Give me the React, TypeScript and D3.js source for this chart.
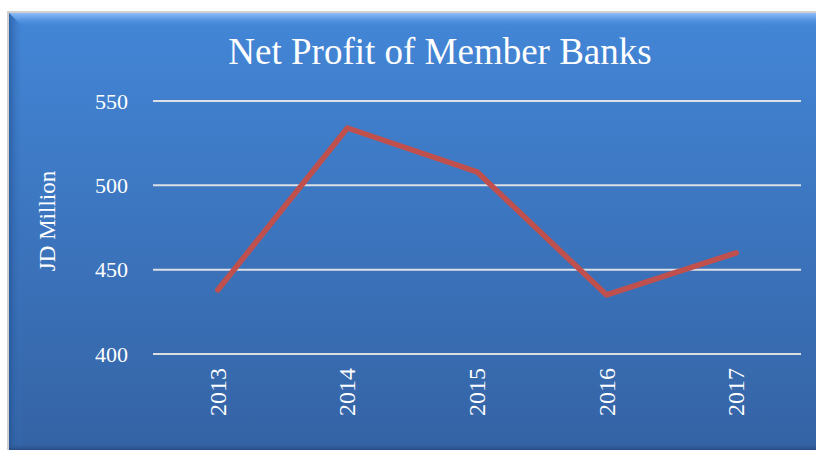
import React from "react";
import * as d3 from "d3";

const categories: string[] = ["2013", "2014", "2015", "2016", "2017"];
const netProfit: number[] = [438, 534, 508, 435, 460];
const yTicks: number[] = [400, 450, 500, 550];
const title = "Net Profit of Member Banks";
const yLabel = "JD Million";

export default function App() {
  const W = 816;
  const H = 450;
  const plot = { left: 153, right: 801, top: 101, bottom: 354 };

  const x = d3
    .scaleBand<string>()
    .domain(categories)
    .range([plot.left, plot.right]);
  const y = d3.scaleLinear().domain([400, 550]).range([plot.bottom, plot.top]);

  const line = d3
    .line<number>()
    .x((_, i) => (x(categories[i]) as number) + x.bandwidth() / 2)
    .y((d) => y(d));

  const font = "'Liberation Serif', 'Times New Roman', serif";

  return (
    <svg
      width={W}
      height={H}
      style={{ position: "absolute", left: 0, top: 0, display: "block" }}
    >
      <defs>
        <linearGradient id="bg" x1="0" y1="0" x2="0" y2="1">
          <stop offset="0%" stopColor="#4386d7" />
          <stop offset="100%" stopColor="#3462a3" />
        </linearGradient>
        <linearGradient id="bevelTop" x1="0" y1="0" x2="0" y2="1">
          <stop offset="0%" stopColor="#8cbcf2" />
          <stop offset="35%" stopColor="#66a1ea" />
          <stop offset="100%" stopColor="#4386d7" stopOpacity="0" />
        </linearGradient>
        <linearGradient id="bevelLeft" x1="0" y1="0" x2="1" y2="0">
          <stop offset="0%" stopColor="#1f4f8f" stopOpacity="0.6" />
          <stop offset="100%" stopColor="#3d7bc8" stopOpacity="0" />
        </linearGradient>
        <linearGradient id="bevelBottom" x1="0" y1="0" x2="0" y2="1">
          <stop offset="0%" stopColor="#3462a3" stopOpacity="0" />
          <stop offset="100%" stopColor="#244a80" stopOpacity="0.9" />
        </linearGradient>
      </defs>
      <rect x={0} y={0} width={W} height={H} fill="#ffffff" />
      <rect x={7} y={11} width={W} height={H} fill="#d0d0d0" />
      <rect x={9} y={13} width={W} height={H} fill="url(#bg)" />
      <polygon
        points={`9,13 ${W},13 ${W},27 23,27`}
        fill="url(#bevelTop)"
      />
      <polygon
        points={`9,13 23,27 23,${H} 9,${H}`}
        fill="url(#bevelLeft)"
      />
      <rect x={9} y={443} width={W} height={7} fill="url(#bevelBottom)" />

      <text
        x={440}
        y={64}
        textAnchor="middle"
        fill="#ffffff"
        fontFamily={font}
        fontSize={37}
      >
        {title}
      </text>

      {yTicks.map((t) => (
        <g key={t}>
          <line
            x1={plot.left}
            x2={plot.right}
            y1={y(t)}
            y2={y(t)}
            stroke="#dcdfe4"
            strokeWidth={2}
          />
          <text
            x={128}
            y={y(t)}
            dy="0.35em"
            textAnchor="end"
            fill="#ffffff"
            fontFamily={font}
            fontSize={22}
          >
            {t}
          </text>
        </g>
      ))}

      <text
        transform={`translate(55,221) rotate(-90)`}
        textAnchor="middle"
        fill="#ffffff"
        fontFamily={font}
        fontSize={23}
      >
        {yLabel}
      </text>

      {categories.map((c) => {
        const cx = (x(c) as number) + x.bandwidth() / 2;
        return (
          <text
            key={c}
            transform={`translate(${cx + 8},368) rotate(-90)`}
            textAnchor="end"
            fill="#ffffff"
            fontFamily={font}
            fontSize={24}
          >
            {c}
          </text>
        );
      })}

      <path
        d={line(netProfit) || ""}
        fill="none"
        stroke="#c0504d"
        strokeWidth={5.5}
        strokeLinejoin="round"
        strokeLinecap="round"
      />
    </svg>
  );
}
